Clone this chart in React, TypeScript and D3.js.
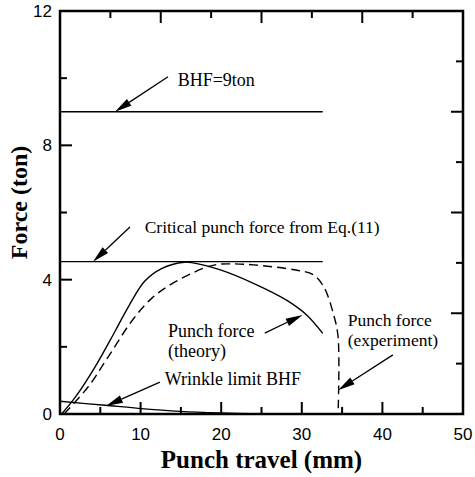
import React from 'react';
import * as d3 from 'd3';

// values (punch travel in mm, force in ton)
const bhfLine: [number, number][] = [[0, 9], [32.6, 9]];
const criticalLine: [number, number][] = [[0, 4.54], [32.6, 4.54]];

const theory: [number, number][] = [
  [0.2, 0], [1.9, 0.5], [4.3, 1.38], [6.8, 2.45], [8.5, 3.2], [10.5, 3.95],
  [12.6, 4.33], [15.4, 4.52], [16.5, 4.5], [19.9, 4.29], [24.0, 3.89],
  [28.1, 3.39], [30.6, 2.95], [32.6, 2.4],
];

const experiment: [number, number][] = [
  [0.5, 0], [3.5, 0.81], [6.0, 1.71], [9.0, 2.8], [11.4, 3.45], [13.9, 3.88],
  [17.8, 4.34], [19.4, 4.45], [21.0, 4.47], [24.0, 4.44], [29.4, 4.28],
  [31.4, 4.15], [32.7, 3.8], [33.9, 3.0], [34.5, 2.3], [34.5, 0],
];

const wrinkle: [number, number][] = [
  [0, 0.38], [5.6, 0.26], [9.7, 0.17], [14.9, 0.08], [19.9, 0.03], [25, 0],
];

const xTicks = [0, 10, 20, 30, 40, 50];
const yTicks = [0, 4, 8, 12];

// annotation arrows: [from, to] in data units
const arrows: [[number, number], [number, number]][] = [
  [[13.4, 10.04], [6.82, 9.0]],
  [[8.68, 5.57], [4.09, 4.53]],
  [[25.4, 2.41], [30.1, 2.95]],
  [[41.3, 1.76], [34.5, 0.71]],
  [[12.4, 0.95], [5.7, 0.24]],
];

const notes: { x: number; y: number; size: number; lines: string[] }[] = [
  { x: 14.6, y: 9.77, size: 18, lines: ['BHF=9ton'] },
  { x: 10.5, y: 5.39, size: 17.5, lines: ['Critical punch force from Eq.(11)'] },
  { x: 13.4, y: 2.3, size: 18, lines: ['Punch force', '(theory)'] },
  { x: 35.7, y: 2.62, size: 17.5, lines: ['Punch force', '(experiment)'] },
  { x: 13.0, y: 0.86, size: 18, lines: ['Wrinkle limit BHF'] },
];

const W = 475;
const H = 477;
const margin = { top: 11, right: 12, bottom: 63, left: 60 };

export default function App() {
  const x = d3.scaleLinear().domain([0, 50]).range([margin.left, W - margin.right]);
  const y = d3.scaleLinear().domain([0, 12]).range([H - margin.bottom, margin.top]);
  const x0 = x(0), x1 = x(50), y0 = y(0), y1 = y(12);

  const smooth = d3.line<[number, number]>()
    .x(d => x(d[0]))
    .y(d => y(d[1]))
    .curve(d3.curveCatmullRom.alpha(0.5));
  const straight = d3.line<[number, number]>().x(d => x(d[0])).y(d => y(d[1]));

  const serif = "'Liberation Serif', 'Times New Roman', serif";
  const sans = "'Liberation Sans', Arial, sans-serif";

  // tick marks, all pointing into the plot
  const bottomTicks = d3.range(0, 51, 5);
  const leftTicks = d3.range(0, 13, 2);
  const topTicks = d3.range(6.25, 50, 6.25);
  const rightTicks = d3.range(1.5, 12, 1.5);

  return (
    <svg width={W} height={H} style={{ position: 'absolute', left: 0, top: 0, background: '#fff' }}>
      {/* curves */}
      <path d={straight(bhfLine)!} fill="none" stroke="#000" strokeWidth={1.3} />
      <path d={straight(criticalLine)!} fill="none" stroke="#000" strokeWidth={1.3} />
      <path d={smooth(theory)!} fill="none" stroke="#000" strokeWidth={1.4} />
      <path d={smooth(experiment)!} fill="none" stroke="#000" strokeWidth={1.4} strokeDasharray="9,5" />
      <path d={smooth(wrinkle)!} fill="none" stroke="#000" strokeWidth={1.3} />

      {/* arrows */}
      {arrows.map(([a, b], i) => {
        const ax = x(a[0]), ay = y(a[1]), bx = x(b[0]), by = y(b[1]);
        const len = Math.hypot(bx - ax, by - ay);
        const ux = (bx - ax) / len, uy = (by - ay) / len;
        const hl = 17, hw = 4;
        const baseX = bx - ux * hl, baseY = by - uy * hl;
        const pts = [
          [bx, by],
          [baseX - uy * hw, baseY + ux * hw],
          [baseX + uy * hw, baseY - ux * hw],
        ].map(p => p.join(',')).join(' ');
        return (
          <g key={i}>
            <line x1={ax} y1={ay} x2={baseX} y2={baseY} stroke="#000" strokeWidth={1.3} />
            <polygon points={pts} fill="#000" />
          </g>
        );
      })}

      {/* annotation text */}
      {notes.map((n, i) => (
        <text key={i} x={x(n.x)} y={y(n.y)} fontFamily={serif} fontSize={n.size}>
          {n.lines.map((l, j) => (
            <tspan key={j} x={x(n.x)} dy={j === 0 ? 0 : 20}>{l}</tspan>
          ))}
        </text>
      ))}

      {/* frame */}
      <rect x={x0} y={y1} width={x1 - x0} height={y0 - y1} fill="none" stroke="#000" strokeWidth={2.5} />

      {bottomTicks.map(t => (
        <line key={'b' + t} x1={x(t)} x2={x(t)} y1={y0} y2={y0 - (t % 10 === 0 ? 12 : 7)} stroke="#000" strokeWidth={2} />
      ))}
      {leftTicks.map(t => (
        <line key={'l' + t} x1={x0} x2={x0 + (t % 4 === 0 ? 12 : 7)} y1={y(t)} y2={y(t)} stroke="#000" strokeWidth={2} />
      ))}
      {topTicks.map((t, i) => (
        <line key={'t' + t} x1={x(t)} x2={x(t)} y1={y1} y2={y1 + (i % 2 === 1 ? 12 : 7)} stroke="#000" strokeWidth={2} />
      ))}
      {rightTicks.map((t, i) => (
        <line key={'r' + t} x1={x1} x2={x1 - (i % 2 === 1 ? 12 : 7)} y1={y(t)} y2={y(t)} stroke="#000" strokeWidth={2} />
      ))}

      {/* tick labels */}
      {xTicks.map(t => (
        <text key={'xl' + t} x={x(t)} y={y0 + 26} textAnchor="middle" fontFamily={sans} fontSize={17}>{t}</text>
      ))}
      {yTicks.map(t => (
        <text key={'yl' + t} x={x0 - 8} y={y(t) + 6} textAnchor="end" fontFamily={sans} fontSize={17}>{t}</text>
      ))}

      {/* axis titles */}
      <text x={(x0 + x1) / 2} y={H - 9} textAnchor="middle" fontFamily={serif} fontWeight="bold" fontSize={25}>
        Punch travel (mm)
      </text>
      <text transform={`translate(27, ${(y0 + y1) / 2 - 10}) rotate(-90)`} textAnchor="middle" fontFamily={serif} fontWeight="bold" fontSize={24}>
        Force (ton)
      </text>
    </svg>
  );
}
